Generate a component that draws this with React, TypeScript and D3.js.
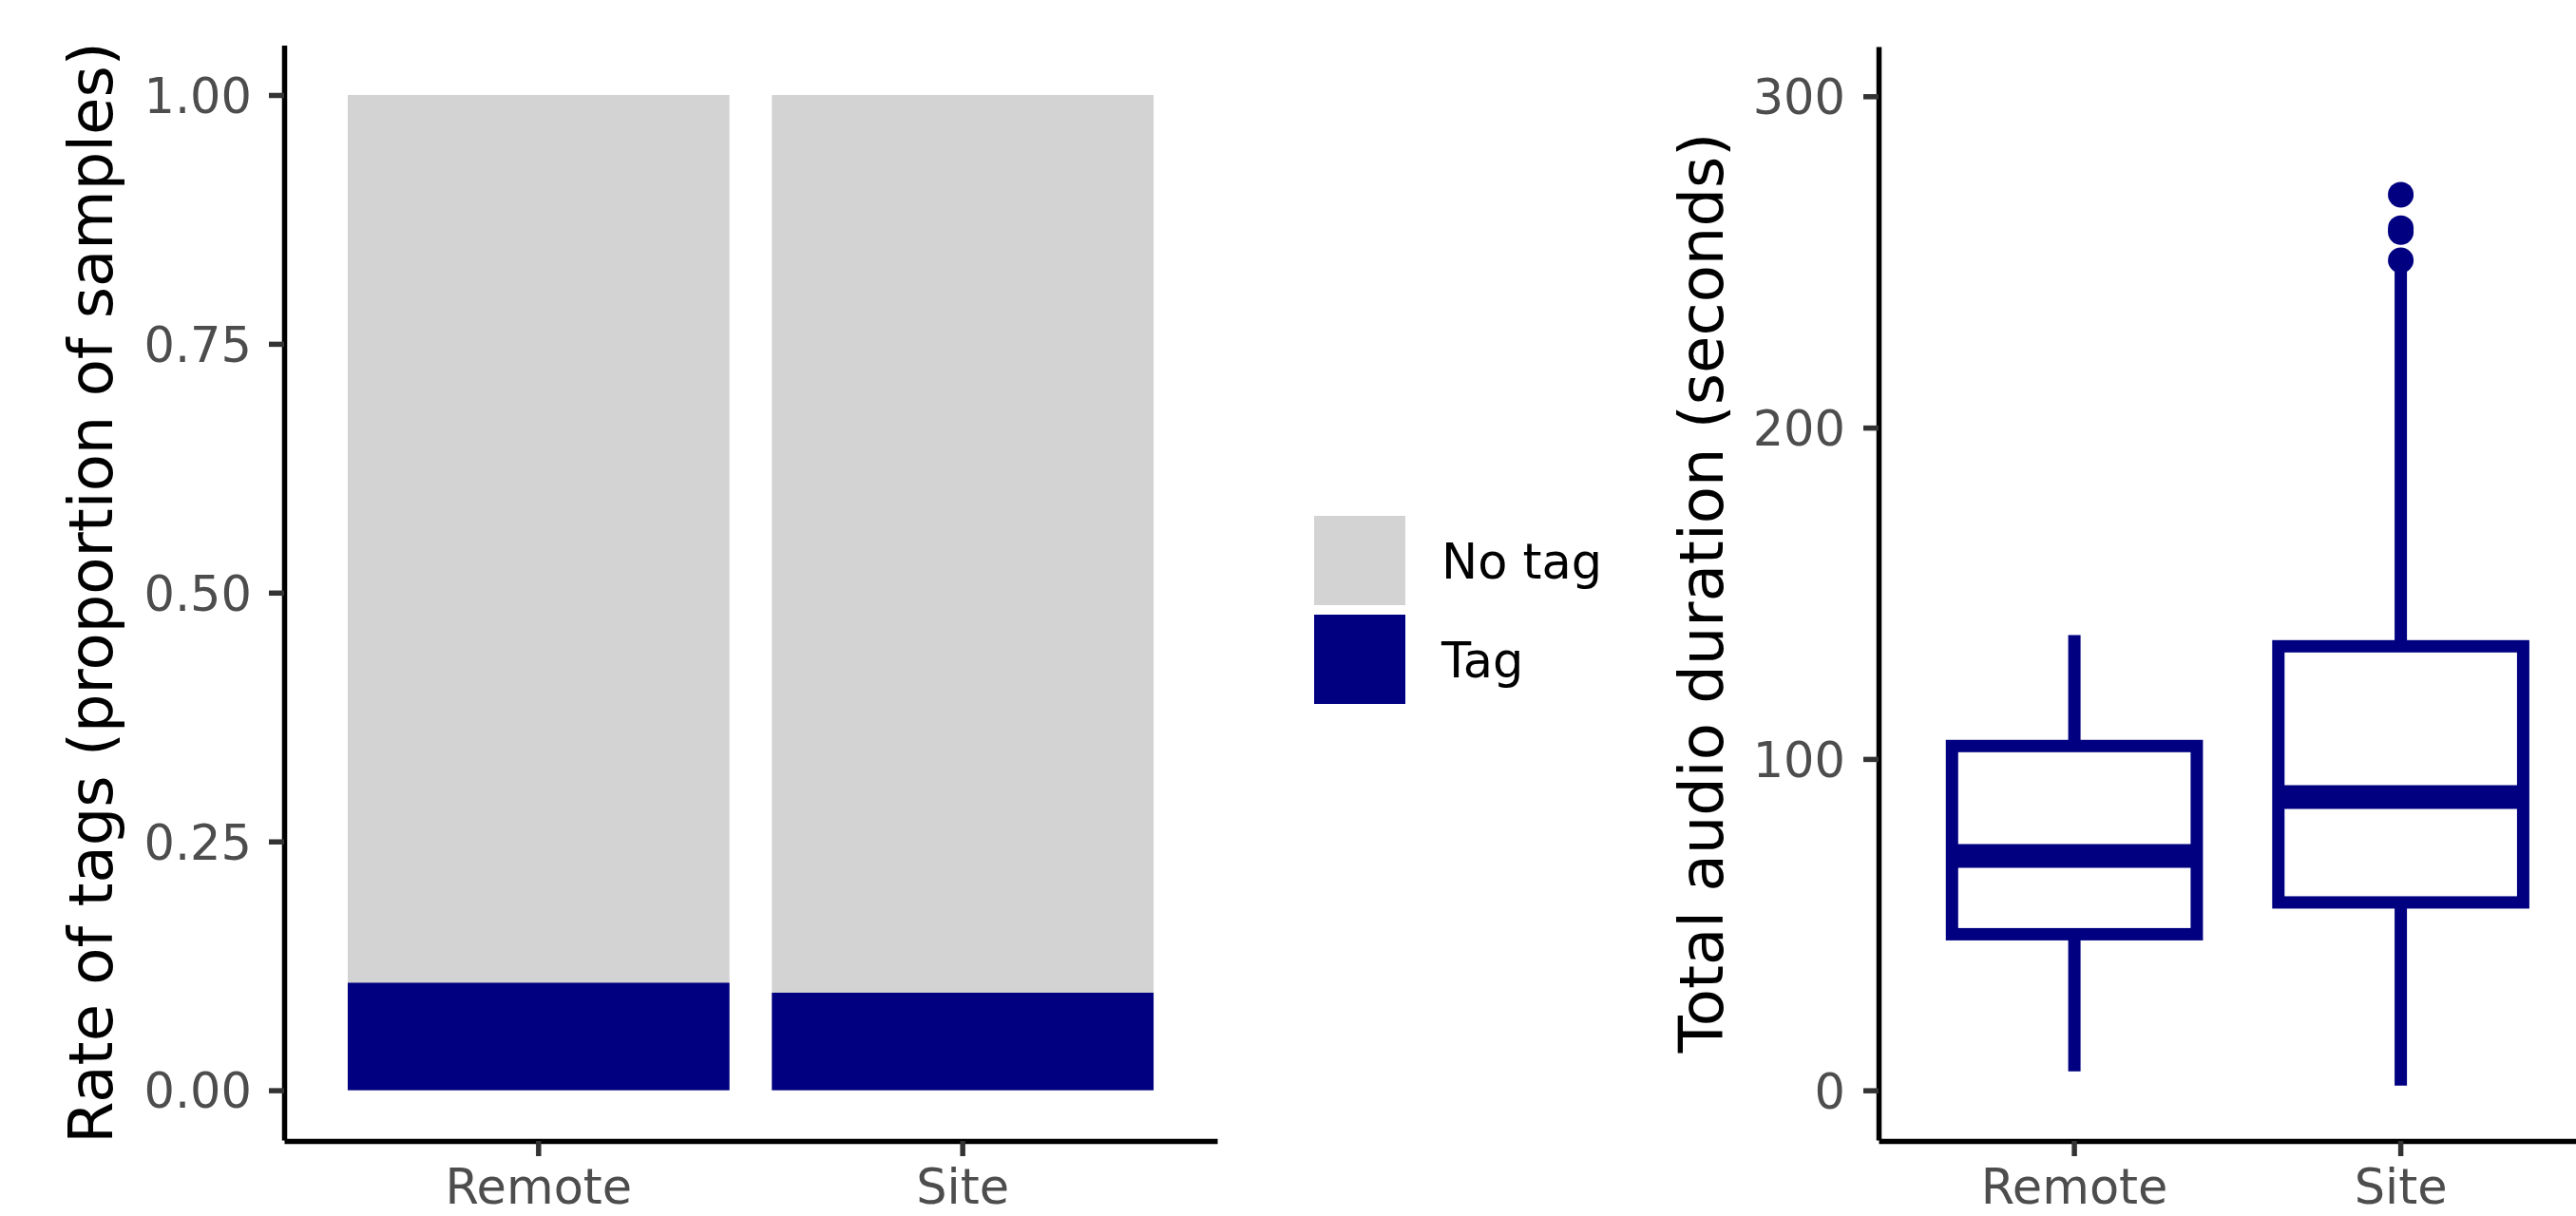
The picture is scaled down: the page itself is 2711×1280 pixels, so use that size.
import React, { useEffect, useRef } from "react";
import * as d3 from "d3";

// bar chart data (share of samples)
const groups = ["Remote", "Site"];
const tagRate = [0.108, 0.098];
const legendLabels = ["No tag", "Tag"];
const rateTicks = [0, 0.25, 0.5, 0.75, 1];

// boxplot data (seconds)
const lowerWhisker = [5.7, 1.4];
const q1 = [47.1, 56.7];
const median = [70.7, 88.5];
const q3 = [103.9, 134];
const upperWhisker = [137.4, 248.5];
const outliers = [[], [250.5, 259, 260.2, 270.3]];
const durationTicks = [0, 100, 200, 300];

const NAVY = "#000080";
const GREY = "#D3D3D3";
const FONT = "DejaVu Sans";

export default function App() {
  const ref = useRef<SVGSVGElement>(null);

  useEffect(() => {
    const svg = d3.select(ref.current);
    svg.selectAll("*").remove();

    function styleAxis(g) {
      g.select(".domain").attr("stroke", "black").attr("stroke-width", 5.5);
      g.selectAll(".tick line").attr("stroke", "#333333").attr("stroke-width", 5.5);
      g.selectAll(".tick text")
        .attr("fill", "#4D4D4D")
        .style("font-size", "51px")
        .style("font-family", FONT);
    }

    // ---------- left panel: stacked bars ----------
    const x1 = d3.scaleBand().domain(groups).range([299, 1281]).paddingInner(0.1).paddingOuter(0.15);
    const y1 = d3.scaleLinear().domain([-0.05, 1.05]).range([1200, 47.6]);

    const left = svg.append("g");
    // grey = rest of the samples, drawn as full bar
    left.selectAll("rect.notag")
      .data(groups)
      .enter()
      .append("rect")
      .attr("x", (d) => x1(d))
      .attr("width", x1.bandwidth())
      .attr("y", y1(1))
      .attr("height", y1(0) - y1(1))
      .attr("fill", GREY);

    left.selectAll("rect.tag")
      .data(groups)
      .enter()
      .append("rect")
      .attr("x", (d) => x1(d))
      .attr("width", x1.bandwidth())
      .attr("y", (d, i) => y1(tagRate[i]))
      .attr("height", (d, i) => y1(0) - y1(tagRate[i]))
      .attr("fill", NAVY);

    const ly = left.append("g")
      .attr("transform", "translate(299,0)")
      .call(d3.axisLeft(y1).tickValues(rateTicks).tickFormat(d3.format(".2f")).tickSize(16).tickSizeOuter(0).tickPadding(18));
    styleAxis(ly);
    ly.selectAll(".tick text").attr("dy", "0.36em");

    const lx = left.append("g")
      .attr("transform", "translate(0,1201)")
      .call(d3.axisBottom(x1).tickSize(16).tickSizeOuter(0));
    styleAxis(lx);
    lx.selectAll(".tick text").attr("y", 66).attr("dy", 0);

    left.append("text")
      .attr("transform", "translate(118,624) rotate(-90)")
      .attr("text-anchor", "middle")
      .style("font-family", FONT)
      .style("font-size", "64px")
      .text("Rate of tags (proportion of samples)");

    // legend
    const legend = svg.append("g").attr("transform", "translate(1383,543)");
    const legendColors = [GREY, NAVY];
    legendLabels.forEach((lab, i) => {
      legend.append("rect")
        .attr("x", 0)
        .attr("y", i * 104)
        .attr("width", 96)
        .attr("height", 94)
        .attr("fill", legendColors[i]);
      legend.append("text")
        .attr("x", 134)
        .attr("y", i * 104 + 66)
        .style("font-family", FONT)
        .style("font-size", "51px")
        .text(lab);
    });

    // ---------- right panel: boxplot ----------
    const x2 = d3.scaleBand().domain(groups).range([1977, 1977 + 2.2 * 343.5]).paddingInner(0.25).paddingOuter(0.225);
    const y2 = d3.scaleLinear().domain([-15, 315]).range([1200, 49]);

    const right = svg.append("g");
    groups.forEach((gname, i) => {
      const bx = x2(gname);
      const bw = x2.bandwidth();
      const cx = bx + bw / 2;
      const g = right.append("g");
      g.append("line")
        .attr("x1", cx).attr("x2", cx)
        .attr("y1", y2(q3[i])).attr("y2", y2(upperWhisker[i]))
        .attr("stroke", NAVY).attr("stroke-width", 13);
      g.append("line")
        .attr("x1", cx).attr("x2", cx)
        .attr("y1", y2(q1[i])).attr("y2", y2(lowerWhisker[i]))
        .attr("stroke", NAVY).attr("stroke-width", 13);
      g.append("rect")
        .attr("x", bx)
        .attr("width", bw)
        .attr("y", y2(q3[i]))
        .attr("height", y2(q1[i]) - y2(q3[i]))
        .attr("fill", "white")
        .attr("stroke", NAVY)
        .attr("stroke-width", 13);
      g.append("line")
        .attr("x1", bx).attr("x2", bx + bw)
        .attr("y1", y2(median[i])).attr("y2", y2(median[i]))
        .attr("stroke", NAVY).attr("stroke-width", 25);
      g.selectAll("circle")
        .data(outliers[i])
        .enter()
        .append("circle")
        .attr("cx", cx)
        .attr("cy", (d) => y2(d))
        .attr("r", 13.5)
        .attr("fill", NAVY);
    });

    const ry = right.append("g")
      .attr("transform", "translate(1977,0)")
      .call(d3.axisLeft(y2).tickValues(durationTicks).tickSize(16).tickSizeOuter(0).tickPadding(19));
    styleAxis(ry);
    ry.selectAll(".tick text").attr("dy", "0.36em");

    const rx = right.append("g")
      .attr("transform", "translate(0,1201)")
      .call(d3.axisBottom(x2).tickSize(16).tickSizeOuter(0));
    styleAxis(rx);
    rx.selectAll(".tick text").attr("y", 66).attr("dy", 0);

    right.append("text")
      .attr("transform", "translate(1813,624) rotate(-90)")
      .attr("text-anchor", "middle")
      .style("font-family", FONT)
      .style("font-size", "64px")
      .text("Total audio duration (seconds)");
  }, []);

  return (
    <>
      <style>{`body{margin:0}`}</style>
      <svg ref={ref} width={2711} height={1280} style={{ display: "block", background: "white" }} />
    </>
  );
}
